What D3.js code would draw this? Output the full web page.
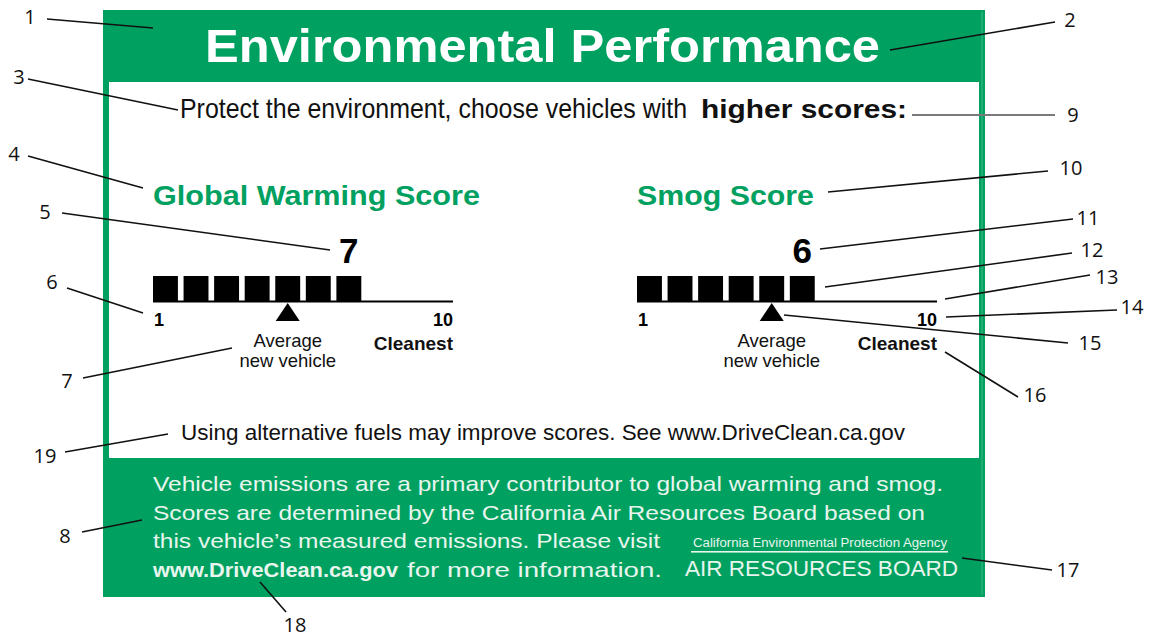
<!DOCTYPE html>
<html>
<head>
<meta charset="utf-8">
<script src="https://cdn.jsdelivr.net/npm/d3@7/dist/d3.min.js"></script>
<style>
  body { margin: 0; background: #fff; }
  svg { display: block; }
</style>
</head>
<body>
<svg id="label" width="1151" height="637"></svg>
<script>
// Label content
var scoreNames = ['Global Warming Score', 'Smog Score'];
var scoreValues = [7, 6];
var averageValues = [5, 5];
var scaleSteps = [1, 2, 3, 4, 5, 6, 7, 8, 9, 10];
var scaleEnds = ['1', '10'];
var averageText = ['Average', 'new vehicle'];
var cleanestText = 'Cleanest';
var titleText = 'Environmental Performance';
var subtitleText = ['Protect the environment, choose vehicles with', 'higher scores:'];
var noteText = 'Using alternative fuels may improve scores. See www.DriveClean.ca.gov';
var footerLines = [
  'Vehicle emissions are a primary contributor to global warming and smog.',
  'Scores are determined by the California Air Resources Board based on',
  'this vehicle\u2019s measured emissions. Please visit'
];
var footerLink = ['www.DriveClean.ca.gov', 'for more information.'];
var agencyText = ['California Environmental Protection Agency', 'AIR RESOURCES BOARD'];
var calloutNumbers = ['1', '2', '3', '4', '5', '6', '7', '8', '9', '10',
  '11', '12', '13', '14', '15', '16', '17', '18', '19'];

// Layout for the callouts (leader line from x1,y1 to x2,y2, number at lx,ly)
var calloutLayout = {
  '1': [47, 19, 153, 28, 30, 24],
  '2': [1055, 22, 890, 50, 1070, 27],
  '3': [28, 79, 178, 110, 19, 84],
  '4': [28, 156, 143, 188, 14, 161],
  '5': [62, 213, 330, 250, 45, 219],
  '6': [67, 288, 143, 313, 52, 289],
  '7': [83, 378, 232, 348, 67, 388],
  '8': [82, 532, 142, 520, 65, 543],
  '9': [912, 115, 1055, 115, 1073, 122],
  '10': [828, 192, 1048, 171, 1071, 175],
  '11': [820, 249, 1073, 219, 1088, 225],
  '12': [825, 287, 1072, 253, 1092, 257],
  '13': [945, 299, 1090, 275, 1107, 284],
  '14': [946, 317, 1117, 310, 1132, 314],
  '15': [784, 315, 1068, 343, 1090, 350],
  '16': [945, 352, 1018, 397, 1035, 402],
  '17': [962, 558, 1052, 570, 1068, 577],
  '18': [260, 582, 286, 612, 295, 632],
  '19': [65, 452, 168, 434, 45, 463]
};

var green = '#00a160';
var sans = 'Liberation Sans, Arial, Helvetica, sans-serif';
var narrow = 'Liberation Sans Narrow, Liberation Sans, Arial, sans-serif';
var panelX = [153, 637];
var panelTitleLength = [327, 177];

var svg = d3.select('#label');

svg.append('rect')
  .attr('width', 1151)
  .attr('height', 637)
  .attr('fill', '#fff');

/*
 * Frame: header band, footer band and side borders
 */
var frame = svg.append('g').attr('class', 'frame');
frame.append('rect').attr('x', 103).attr('y', 10).attr('width', 882).attr('height', 72).attr('fill', green);
frame.append('rect').attr('x', 103).attr('y', 458).attr('width', 882).attr('height', 139).attr('fill', green);
frame.append('rect').attr('x', 103).attr('y', 10).attr('width', 6).attr('height', 587).attr('fill', green);
frame.append('rect').attr('x', 979).attr('y', 10).attr('width', 6).attr('height', 587).attr('fill', green);
frame.append('line')
  .attr('x1', 982).attr('x2', 982).attr('y1', 12).attr('y2', 595)
  .attr('stroke', '#3dbb85').attr('stroke-width', 1);

frame.append('text')
  .attr('x', 205)
  .attr('y', 62)
  .attr('font-family', sans)
  .attr('font-size', 47)
  .attr('font-weight', 'bold')
  .attr('fill', '#fff')
  .attr('textLength', 675)
  .attr('lengthAdjust', 'spacingAndGlyphs')
  .text(titleText);

// narrow face is faked with a smaller size stretched vertically
svg.append('text')
  .attr('transform', 'translate(180, 118) scale(1, 1.14)')
  .attr('font-family', narrow)
  .attr('font-size', 24)
  .attr('fill', '#111')
  .attr('textLength', 507)
  .attr('lengthAdjust', 'spacingAndGlyphs')
  .text(subtitleText[0]);

svg.append('text')
  .attr('x', 701)
  .attr('y', 118)
  .attr('font-family', sans)
  .attr('font-size', 26)
  .attr('font-weight', 'bold')
  .attr('fill', '#111')
  .attr('textLength', 206)
  .attr('lengthAdjust', 'spacingAndGlyphs')
  .text(subtitleText[1]);

/*
 * Score panels
 */
var x = d3.scaleBand()
  .domain(scaleSteps)
  .range([0, 300])
  .paddingInner(0.185)
  .paddingOuter(0);

var panels = svg.selectAll('.panel')
  .data(scoreNames.map(function(name, i) {
    return { name: name, value: scoreValues[i], average: averageValues[i], index: i };
  }))
  .enter().append('g')
  .attr('class', 'panel')
  .attr('transform', function(d) {
    return 'translate(' + panelX[d.index] + ', 0)';
  });

panels.append('text')
  .attr('x', 0)
  .attr('y', 205)
  .attr('font-family', sans)
  .attr('font-size', 28)
  .attr('font-weight', 'bold')
  .attr('fill', green)
  .attr('textLength', function(d) { return panelTitleLength[d.index]; })
  .attr('lengthAdjust', 'spacingAndGlyphs')
  .text(function(d) { return d.name; });

panels.append('text')
  .attr('x', function(d) { return x(d.value) + x.bandwidth() / 2; })
  .attr('y', 263)
  .attr('text-anchor', 'middle')
  .attr('font-family', sans)
  .attr('font-size', 35)
  .attr('font-weight', 'bold')
  .attr('fill', '#000')
  .text(function(d) { return d.value; });

panels.selectAll('.bar')
  .data(function(d) {
    return scaleSteps.filter(function(s) { return s <= d.value; });
  })
  .enter().append('rect')
  .attr('class', 'bar')
  .attr('x', function(s) { return x(s); })
  .attr('y', 276)
  .attr('width', x.bandwidth())
  .attr('height', 26)
  .attr('fill', '#000');

panels.append('line')
  .attr('x1', 0)
  .attr('x2', 300)
  .attr('y1', 301.5)
  .attr('y2', 301.5)
  .attr('stroke', '#000')
  .attr('stroke-width', 2);

panels.append('path')
  .attr('d', function(d) {
    var cx = x(d.average) + x.bandwidth() / 2;
    return 'M' + cx + ',303 L' + (cx + 12) + ',321 L' + (cx - 12) + ',321 Z';
  })
  .attr('fill', '#000');

panels.append('text')
  .attr('x', 1)
  .attr('y', 326)
  .attr('font-family', sans)
  .attr('font-size', 18)
  .attr('font-weight', 'bold')
  .text(scaleEnds[0]);

panels.append('text')
  .attr('x', 300)
  .attr('y', 326)
  .attr('text-anchor', 'end')
  .attr('font-family', sans)
  .attr('font-size', 18)
  .attr('font-weight', 'bold')
  .text(scaleEnds[1]);

panels.append('text')
  .attr('x', 300)
  .attr('y', 350)
  .attr('text-anchor', 'end')
  .attr('font-family', sans)
  .attr('font-size', 19)
  .attr('font-weight', 'bold')
  .attr('fill', '#111')
  .text(cleanestText);

panels.selectAll('.avg-label')
  .data(function(d) {
    return averageText.map(function(t, j) { return { text: t, row: j, average: d.average }; });
  })
  .enter().append('text')
  .attr('class', 'avg-label')
  .attr('x', function(d) { return x(d.average) + x.bandwidth() / 2; })
  .attr('y', function(d) { return 347 + d.row * 20; })
  .attr('text-anchor', 'middle')
  .attr('font-family', sans)
  .attr('font-size', 18.5)
  .attr('fill', '#111')
  .text(function(d) { return d.text; });

svg.append('text')
  .attr('transform', 'translate(181, 440) scale(1, 1.1)')
  .attr('font-family', narrow)
  .attr('font-size', 19.5)
  .attr('fill', '#111')
  .attr('textLength', 724)
  .attr('lengthAdjust', 'spacingAndGlyphs')
  .text(noteText);

/*
 * Footer text
 */
var footerLength = [790, 772, 507];
svg.selectAll('.footer-line')
  .data(footerLines)
  .enter().append('text')
  .attr('class', 'footer-line')
  .attr('x', 153)
  .attr('y', function(d, i) { return 491 + i * 28.5; })
  .attr('font-family', sans)
  .attr('font-size', 21)
  .attr('fill', '#e8f5ee')
  .attr('textLength', function(d, i) { return footerLength[i]; })
  .attr('lengthAdjust', 'spacingAndGlyphs')
  .text(function(d) { return d; });

svg.append('text')
  .attr('x', 153)
  .attr('y', 576.5)
  .attr('font-family', sans)
  .attr('font-size', 21)
  .attr('font-weight', 'bold')
  .attr('fill', '#e8f5ee')
  .attr('textLength', 245)
  .attr('lengthAdjust', 'spacingAndGlyphs')
  .text(footerLink[0]);

svg.append('text')
  .attr('x', 407)
  .attr('y', 576.5)
  .attr('font-family', sans)
  .attr('font-size', 21)
  .attr('fill', '#e8f5ee')
  .attr('textLength', 255)
  .attr('lengthAdjust', 'spacingAndGlyphs')
  .text(footerLink[1]);

svg.append('text')
  .attr('x', 693)
  .attr('y', 547)
  .attr('font-family', narrow)
  .attr('font-size', 12.5)
  .attr('fill', '#e8f5ee')
  .attr('textLength', 254)
  .attr('lengthAdjust', 'spacingAndGlyphs')
  .text(agencyText[0]);

svg.append('rect')
  .attr('x', 691)
  .attr('y', 551)
  .attr('width', 257)
  .attr('height', 1.6)
  .attr('fill', '#e8f5ee');

svg.append('text')
  .attr('x', 685)
  .attr('y', 576)
  .attr('font-family', sans)
  .attr('font-size', 21.5)
  .attr('fill', '#e8f5ee')
  .attr('textLength', 273)
  .attr('lengthAdjust', 'spacingAndGlyphs')
  .text(agencyText[1]);

/*
 * Numbered callouts
 */
var callouts = svg.selectAll('.callout')
  .data(calloutNumbers)
  .enter().append('g')
  .attr('class', 'callout');

callouts.append('line')
  .attr('x1', function(d) { return calloutLayout[d][0]; })
  .attr('y1', function(d) { return calloutLayout[d][1]; })
  .attr('x2', function(d) { return calloutLayout[d][2]; })
  .attr('y2', function(d) { return calloutLayout[d][3]; })
  .attr('stroke', function(d) { return d === '9' ? '#7a7a7a' : '#111'; })
  .attr('stroke-width', function(d) { return d === '9' ? 2.2 : 1.6; });

callouts.append('text')
  .attr('x', function(d) { return calloutLayout[d][4]; })
  .attr('y', function(d) { return calloutLayout[d][5]; })
  .attr('text-anchor', 'middle')
  .attr('font-family', 'Open Sans, Noto Sans, sans-serif')
  .attr('font-size', 20)
  .attr('fill', '#111')
  .text(function(d) { return d; });
</script>
</body>
</html>
